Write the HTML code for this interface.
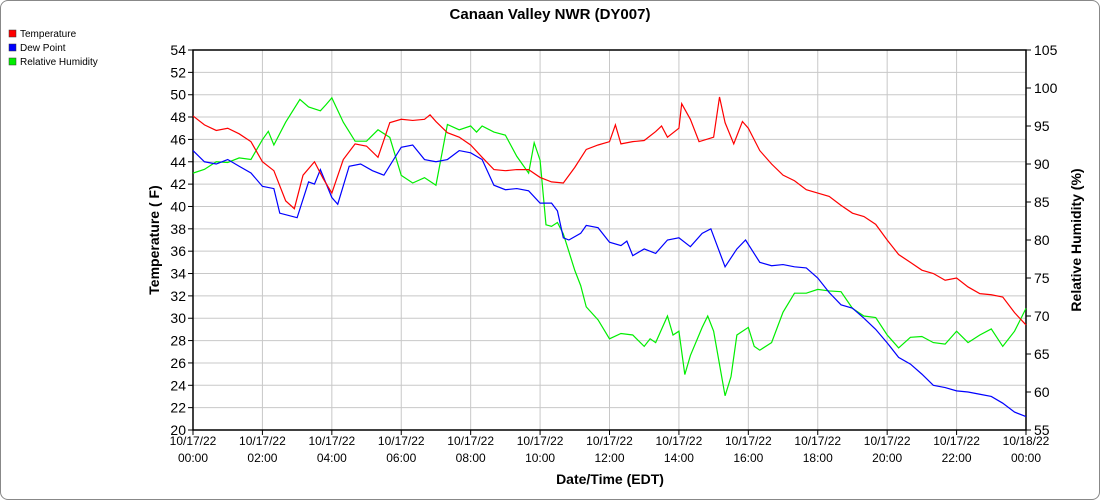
<!DOCTYPE html>
<html><head><meta charset="utf-8"><style>
body{margin:0;background:#fff;font-family:"Liberation Sans",sans-serif}
#wrap{position:relative;width:1098px;height:498px;border:1px solid #888;border-radius:8px;overflow:hidden}
</style></head><body>
<div id="wrap">
<svg id="c" width="1100" height="500" style="position:absolute;left:-1px;top:-1px"></svg>
</div>
<script>
const tempHours=[0,0.33,0.67,1,1.33,1.67,2,2.33,2.67,2.92,3.17,3.5,3.75,4,4.33,4.67,5,5.33,5.67,6,6.33,6.67,6.83,7,7.33,7.67,8,8.33,8.67,9,9.33,9.67,10,10.33,10.67,11,11.33,11.67,12,12.17,12.33,12.67,13,13.33,13.5,13.67,14,14.08,14.33,14.58,15,15.17,15.33,15.58,15.83,16,16.33,16.67,17,17.33,17.67,18,18.33,18.67,19,19.33,19.67,20,20.33,20.67,21,21.33,21.67,22,22.33,22.67,23,23.33,23.67,24];
const tempValues=[48.1,47.3,46.8,47.0,46.5,45.8,44.0,43.2,40.5,39.8,42.8,44.0,42.5,41.2,44.2,45.6,45.4,44.4,47.5,47.8,47.7,47.8,48.2,47.6,46.6,46.2,45.5,44.4,43.3,43.2,43.3,43.3,42.6,42.2,42.1,43.5,45.1,45.5,45.8,47.3,45.6,45.8,45.9,46.7,47.2,46.2,47.0,49.2,47.8,45.8,46.2,49.8,47.5,45.6,47.6,47.0,45.0,43.8,42.8,42.3,41.5,41.2,40.9,40.1,39.4,39.1,38.4,37.0,35.7,35.0,34.3,34.0,33.4,33.6,32.8,32.2,32.1,31.9,30.5,29.4];
const dewHours=[0,0.33,0.67,1,1.33,1.67,2,2.33,2.5,3,3.33,3.5,3.67,4,4.17,4.5,4.83,5.17,5.5,6,6.33,6.67,7,7.33,7.67,8,8.33,8.67,9,9.33,9.67,10,10.33,10.5,10.67,10.83,11.17,11.33,11.67,12,12.33,12.5,12.67,13,13.33,13.67,14,14.33,14.67,14.92,15.33,15.67,15.92,16.33,16.67,17,17.33,17.67,18,18.33,18.67,19,19.33,19.67,20,20.33,20.67,21,21.33,21.67,22,22.33,22.67,23,23.33,23.67,24];
const dewValues=[45.0,44.0,43.8,44.2,43.6,43.0,41.8,41.6,39.4,39.0,42.2,42.0,43.3,40.8,40.2,43.6,43.8,43.2,42.8,45.3,45.5,44.2,44.0,44.2,45.0,44.8,44.2,41.9,41.5,41.6,41.4,40.3,40.3,39.6,37.2,37.0,37.6,38.3,38.1,36.8,36.5,36.9,35.6,36.2,35.8,37.0,37.2,36.4,37.6,38.0,34.6,36.2,37.0,35.0,34.7,34.8,34.6,34.5,33.6,32.3,31.2,30.9,30.0,29.0,27.8,26.5,25.9,25.0,24.0,23.8,23.5,23.4,23.2,23.0,22.4,21.6,21.2];
const rhHours=[0,0.33,0.67,1,1.33,1.67,2,2.17,2.33,2.67,3.08,3.33,3.67,3.83,4,4.33,4.67,5,5.33,5.67,6,6.33,6.67,7,7.33,7.67,8,8.17,8.33,8.67,9,9.33,9.67,9.83,10,10.17,10.33,10.5,10.67,11,11.17,11.33,11.67,12,12.33,12.67,13,13.17,13.33,13.67,13.83,14,14.17,14.33,14.67,14.83,15,15.33,15.5,15.67,16,16.17,16.33,16.67,17,17.33,17.67,18,18.33,18.67,19,19.33,19.67,20,20.33,20.67,21,21.33,21.67,22,22.33,22.67,23,23.33,23.67,24];
const rhValues=[88.8,89.3,90.3,90.2,90.8,90.6,93.2,94.3,92.5,95.5,98.5,97.5,97.0,97.8,98.7,95.5,93.0,93.0,94.5,93.5,88.5,87.5,88.2,87.2,95.2,94.5,95.0,94.2,95.0,94.2,93.8,91.0,88.8,92.8,90.5,82.0,81.8,82.3,80.8,76.0,74.0,71.2,69.5,67.0,67.7,67.5,66.0,67.0,66.5,70.0,67.5,68.0,62.3,64.8,68.5,70.0,68.0,59.5,62.0,67.5,68.5,66.0,65.5,66.5,70.5,73.0,73.0,73.5,73.3,73.2,71.0,70.0,69.8,67.5,65.8,67.2,67.3,66.5,66.3,68.0,66.5,67.5,68.3,66.0,68.0,71.0];
const tempTicks=[20,22,24,26,28,30,32,34,36,38,40,42,44,46,48,50,52,54];
const rhTicks=[55,60,65,70,75,80,85,90,95,100,105];
const xTickHours=[0,2,4,6,8,10,12,14,16,18,20,22,24];
const xTickLine1=["10/17/22","10/17/22","10/17/22","10/17/22","10/17/22","10/17/22","10/17/22","10/17/22","10/17/22","10/17/22","10/17/22","10/17/22","10/18/22"];
const xTickLine2=["00:00","02:00","04:00","06:00","08:00","10:00","12:00","14:00","16:00","18:00","20:00","22:00","00:00"];

const L=193,R=1026,T=50,B=430;
const NS="http://www.w3.org/2000/svg";
const svg=document.getElementById('c');
const xs=h=>L+(R-L)*h/24;
const yT=v=>B-(B-T)*(v-20)/34;
const yR=v=>B-(B-T)*(v-55)/50;
function mk(tag,attrs,parent){const e=document.createElementNS(NS,tag);for(const k in attrs)e.setAttribute(k,attrs[k]);(parent||svg).appendChild(e);return e;}

const grid=mk('g',{});


tempTicks.forEach(v=>{mk('line',{x1:L,x2:R,y1:yT(v),y2:yT(v),stroke:'#c8c8c8','stroke-width':1},grid);});
xTickHours.forEach(h=>{mk('line',{x1:xs(h),x2:xs(h),y1:T,y2:B,stroke:'#c8c8c8','stroke-width':1},grid);});

const ax=mk('g',{stroke:'#000','stroke-width':1.5,fill:'none'});


mk('rect',{x:L,y:T,width:R-L,height:B-T},ax);

const lt=mk('g',{'font-size':14,'text-anchor':'end',fill:'#000'});


tempTicks.forEach(v=>{mk('line',{x1:L-5,x2:L,y1:yT(v),y2:yT(v),stroke:'#000'},lt);const t=mk('text',{x:L-7,y:yT(v)+5},lt);t.textContent=v;});
const rt=mk('g',{'font-size':14,'text-anchor':'start',fill:'#000'});


rhTicks.forEach(v=>{mk('line',{x1:R,x2:R+5,y1:yR(v),y2:yR(v),stroke:'#000'},rt);const t=mk('text',{x:R+8,y:yR(v)+5},rt);t.textContent=v;});
const xt=mk('g',{'font-size':12,'text-anchor':'middle',fill:'#000'});


xTickHours.forEach((h,i)=>{mk('line',{x1:xs(h),x2:xs(h),y1:B,y2:B+5,stroke:'#000'},xt);const a=mk('text',{x:xs(h),y:B+15},xt);a.textContent=xTickLine1[i];const b=mk('text',{x:xs(h),y:B+32},xt);b.textContent=xTickLine2[i];});

function line(hrs,vals,yf,col,name){const p=mk('polyline',{points:hrs.map((h,i)=>xs(h)+','+yf(vals[i])).join(' '),fill:'none',stroke:col,'stroke-width':1.2});}
line(rhHours,rhValues,yR,'#00ee00','rh-line');
line(dewHours,dewValues,yT,'#0000ff','dew-point-line');
line(tempHours,tempValues,yT,'#ff0000','temperature-line');

function txt(x,y,s,attrs,name){const t=mk('text',Object.assign({x:x,y:y},attrs));t.textContent=s;return t;}
txt(550,19,'Canaan Valley NWR (DY007)',{'font-size':15,'font-weight':'bold','text-anchor':'middle'},'chart-title');
txt(610,484,'Date/Time (EDT)',{'font-size':14,'font-weight':'bold','text-anchor':'middle'},'x-axis-title');
txt(0,0,'Temperature ( F)',{'font-size':14,'font-weight':'bold','text-anchor':'middle',transform:'translate(159,240) rotate(-90)'},'left-y-axis-title');
txt(0,0,'Relative Humidity (%)',{'font-size':14,'font-weight':'bold','text-anchor':'middle',transform:'translate(1081,240) rotate(-90)'},'right-y-axis-title');

const leg=[['Temperature','#ff0000'],['Dew Point','#0000ff'],['Relative Humidity','#00ee00']];
leg.forEach((l,i)=>{const g=mk('g',{});
mk('rect',{x:9,y:30+i*14,width:7,height:7,fill:l[1],stroke:'#333','stroke-width':0.5},g);
const t=mk('text',{x:20,y:37+i*14,'font-size':10},g);t.textContent=l[0];});
</script>
</body></html>
